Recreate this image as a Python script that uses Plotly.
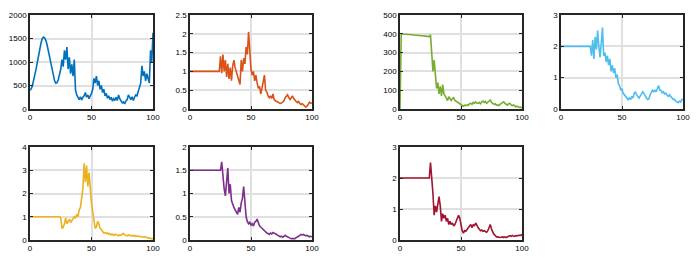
import plotly.graph_objects as go

X = list(range(101))

s1 = [400, 430, 500, 600, 720, 860, 1000, 1150, 1290, 1410,
      1500, 1530, 1510, 1450, 1350, 1230, 1090, 950, 820, 690,
      600, 550, 560, 620, 720, 850, 1050, 900, 1250, 1050,
      1320, 850, 1100, 750, 950, 700, 1050, 400, 300, 230,
      200, 260, 190, 250, 280, 350, 250, 300, 220, 280,
      330, 420, 650, 550, 700, 500, 600, 420, 500, 350,
      420, 280, 330, 230, 280, 200, 250, 170, 220, 180,
      250, 180, 300, 220, 170, 130, 150, 110, 170, 200,
      300, 240, 200, 260, 180, 250, 300, 280, 380, 450,
      550, 920, 700, 800, 600, 750, 650, 550, 1250, 1000, 1620]

s2 = [1.0] * 25 + [
      1.4, 0.95, 1.45, 1.0, 1.3, 0.85, 1.2, 0.8, 1.1, 0.75,
      1.15, 1.3, 1.1, 1.0, 0.85, 0.75, 0.65, 1.3, 1.0, 1.35,
      1.2, 1.65, 1.45, 2.05, 1.4, 1.05, 0.9, 1.0, 0.75, 0.9,
      0.7, 0.55, 0.6, 0.4, 0.55, 0.75, 0.9, 0.5, 0.45, 0.35,
      0.3, 0.35, 0.28, 0.4, 0.25, 0.22, 0.2, 0.18, 0.16, 0.15,
      0.16, 0.2, 0.22, 0.3, 0.35, 0.38, 0.3, 0.25, 0.3, 0.35,
      0.28, 0.22, 0.2, 0.17, 0.2, 0.15, 0.12, 0.14, 0.1, 0.08,
      0.05, 0.08, 0.12, 0.18, 0.15, 0.17]

s3 = [0, 400, 399, 399, 398, 398, 397, 397, 396, 396,
      395, 394, 394, 393, 393, 392, 391, 391, 390, 389,
      389, 388, 387, 386, 385, 395, 270, 200, 260, 160,
      110, 140, 80, 120, 70, 130, 80, 70, 55, 45,
      65, 50, 45, 55, 60, 45, 40, 35, 30, 25,
      20, 18, 15, 20, 18, 22, 20, 28, 30, 25,
      35, 30, 38, 32, 30, 35, 28, 38, 42, 35,
      40, 30, 35, 45, 48, 35, 30, 25, 28, 20,
      22, 18, 25, 30, 35, 38, 30, 25, 20, 28,
      30, 22, 18, 22, 15, 12, 15, 10, 8, 10, 5]

s4 = [2.0] * 25 + [
      1.7, 2.2, 1.6, 2.3, 1.9, 2.5, 2.0, 1.65, 2.1, 2.6,
      1.7, 1.8, 1.5, 1.7, 1.4, 1.6, 1.2, 1.4, 1.15, 1.3,
      1.0, 1.1, 0.8, 0.75, 0.6, 0.65, 0.5, 0.45, 0.38, 0.35,
      0.3, 0.35, 0.3, 0.4, 0.35, 0.5, 0.55, 0.45, 0.4, 0.35,
      0.42, 0.5, 0.55, 0.5, 0.4, 0.35, 0.3, 0.32, 0.45, 0.55,
      0.6, 0.55, 0.6, 0.55, 0.65, 0.75, 0.6, 0.6, 0.5, 0.55,
      0.48, 0.5, 0.45, 0.4, 0.45, 0.38, 0.35, 0.3, 0.32, 0.25,
      0.22, 0.2, 0.25, 0.22, 0.3, 0.3]

s5 = [1.0] * 25 + [
      0.95, 0.5, 0.55, 0.7, 0.95, 0.7, 0.8, 0.9, 0.75, 0.85,
      0.9, 1.0, 0.95, 1.1, 1.0, 1.3, 1.4, 1.8, 2.2, 3.3,
      2.5, 3.2, 2.3, 2.9, 2.0, 1.6, 1.2, 0.9, 0.5, 0.55,
      0.8, 0.7, 0.5, 0.45, 0.35, 0.3, 0.32, 0.28, 0.3, 0.25,
      0.28, 0.22, 0.25, 0.2, 0.25, 0.22, 0.2, 0.18, 0.22, 0.2,
      0.25, 0.28, 0.22, 0.2, 0.18, 0.22, 0.2, 0.18, 0.2, 0.17,
      0.2, 0.15, 0.18, 0.15, 0.16, 0.14, 0.15, 0.12, 0.14, 0.12,
      0.1, 0.11, 0.08, 0.07, 0.06, 0.05]

s6 = [1.5] * 25 + [
      1.5, 1.68, 1.3, 1.1, 0.95, 1.3, 1.55, 1.0, 1.2, 0.85,
      0.75, 0.7, 0.65, 0.6, 0.55, 0.7, 0.6, 0.8, 0.9, 1.15,
      0.8, 0.5, 0.4, 0.35, 0.38, 0.32, 0.35, 0.3, 0.38, 0.4,
      0.45, 0.35, 0.3, 0.28, 0.25, 0.22, 0.2, 0.18, 0.15, 0.14,
      0.12, 0.15, 0.13, 0.16, 0.15, 0.14, 0.12, 0.1, 0.08, 0.07,
      0.08, 0.06, 0.08, 0.1, 0.08, 0.06, 0.05, 0.04, 0.03, 0.03,
      0.02, 0.03, 0.05, 0.06, 0.08, 0.1, 0.12, 0.11, 0.12, 0.1,
      0.09, 0.1, 0.08, 0.07, 0.08, 0.07]

s7 = [2.0] * 25 + [
      2.5, 2.1, 1.5, 0.8, 1.1, 0.9, 1.25, 1.4, 1.1, 0.6,
      0.85, 0.7, 0.8, 0.6, 0.7, 0.5, 0.6, 0.5, 0.55, 0.45,
      0.5, 0.6, 0.75, 0.8, 0.7, 0.45, 0.3, 0.22, 0.3, 0.28,
      0.35, 0.4, 0.45, 0.5, 0.4, 0.5, 0.45, 0.55, 0.45, 0.4,
      0.35, 0.3, 0.32, 0.28, 0.3, 0.28, 0.25, 0.3, 0.4, 0.5,
      0.35, 0.25, 0.18, 0.15, 0.1, 0.1, 0.08, 0.08, 0.09, 0.1,
      0.08, 0.1, 0.08, 0.1, 0.12, 0.14, 0.12, 0.15, 0.13, 0.12,
      0.14, 0.13, 0.15, 0.14, 0.15, 0.18]

series = [s1, s2, s3, s4, s5, s6, s7]
colors = ["#0072BD", "#D95319", "#77AC30", "#4DBEEE", "#EDB120", "#7E2F8E", "#A2142F"]
y_ticks = [
    [0, 500, 1000, 1500, 2000],
    [0, 0.5, 1, 1.5, 2, 2.5],
    [0, 100, 200, 300, 400, 500],
    [0, 1, 2, 3],
    [0, 1, 2, 3, 4],
    [0, 0.5, 1, 1.5, 2],
    [0, 1, 2, 3],
]
x_ticks = [0, 50, 100]

W, H = 700, 265
OFF = 8  # page body margin
col_px = [(30, 153), (190, 312), (400, 522), (561, 683)]
row_px = [(15, 109), (147, 240)]
positions = [(0, 0), (0, 1), (0, 2), (0, 3), (1, 0), (1, 1), (1, 2)]

fig = go.Figure()
layout = dict(
    width=W, height=H,
    margin=dict(l=0, r=0, t=0, b=0, autoexpand=False),
    paper_bgcolor="white", plot_bgcolor="white",
    showlegend=False,
    font=dict(family="Liberation Sans, Arial, sans-serif", size=8, color="#000000"),
)

for i, (ys, c, yt) in enumerate(zip(series, colors, y_ticks)):
    r, cidx = positions[i]
    n = "" if i == 0 else str(i + 1)
    fig.add_trace(go.Scatter(x=X, y=ys, mode="lines",
                             line=dict(color=c, width=1.6),
                             xaxis="x" + n, yaxis="y" + n, hoverinfo="skip"))
    x0, x1 = [v - OFF for v in col_px[cidx]]
    y0, y1 = [v - OFF for v in row_px[r]]
    axstyle = dict(showline=True, mirror="ticks", linecolor="#262626", linewidth=1.6,
                   ticks="inside", ticklen=3, tickcolor="#262626",
                   showgrid=True, gridcolor="#e0e0e0", gridwidth=1.5,
                   zeroline=False, automargin=False,
                   tickfont=dict(size=8, color="#000000"))
    layout["xaxis" + n] = dict(axstyle, domain=[x0 / W, x1 / W], range=[0, 100],
                               tickvals=x_ticks, anchor="y" + n)
    layout["yaxis" + n] = dict(axstyle, domain=[1 - y1 / H, 1 - y0 / H],
                               range=[yt[0], yt[-1]], tickvals=yt, anchor="x" + n)

fig.update_layout(**layout)
fig.write_html("out.html")
